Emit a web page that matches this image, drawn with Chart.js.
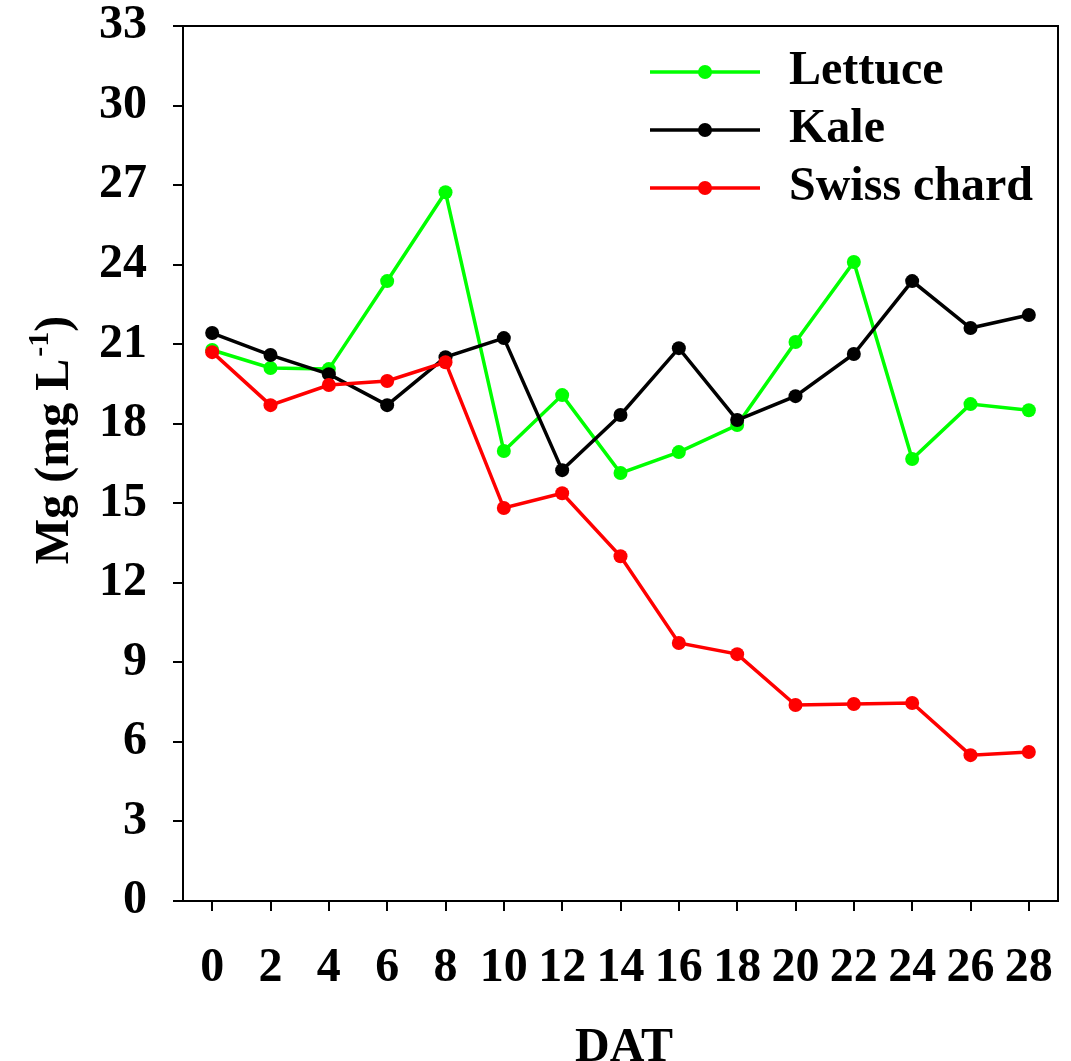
<!DOCTYPE html>
<html>
<head>
<meta charset="utf-8">
<script src="https://cdn.jsdelivr.net/npm/chart.js@4/dist/chart.umd.min.js"></script>
<style>
  html, body { margin: 0; padding: 0; background: #fff; }
  #wrap { width: 1071px; height: 1061px; position: relative; }
</style>
</head>
<body>
<div id="wrap"><canvas id="c" width="1071" height="1061"></canvas></div>
<script>
const days = [0, 2, 4, 6, 8, 10, 12, 14, 16, 18, 20, 22, 24, 26, 28];
const seriesNames = ["Lettuce", "Kale", "Swiss chard"];
const lettuce = [20.78, 20.10, 20.06, 23.38, 26.73, 16.97, 19.08, 16.14, 16.93, 17.95, 21.08, 24.10, 16.67, 18.74, 18.51];
const kale = [21.42, 20.59, 19.87, 18.70, 20.51, 21.23, 16.25, 18.33, 20.85, 18.14, 19.04, 20.63, 23.38, 21.61, 22.10];
const swissChard = [20.70, 18.70, 19.46, 19.61, 20.32, 14.82, 15.38, 13.00, 9.73, 9.31, 7.39, 7.43, 7.47, 5.50, 5.62];
const yTicks = [0, 3, 6, 9, 12, 15, 18, 21, 24, 27, 30, 33];
const xTitle = "DAT";
const yTitleMain = "Mg (mg L";
const yTitleSup = "-1";
const yTitleEnd = ")";

const colors = ["#00ff00", "#000000", "#ff0000"];
const FONT = "'Liberation Serif', 'Times New Roman', serif";

function pts(arr) { return days.map((d, i) => ({ x: d, y: arr[i] })); }

const allSeries = [lettuce, kale, swissChard];
const datasets = allSeries.map((arr, i) => ({
  label: seriesNames[i],
  data: pts(arr),
  borderColor: colors[i],
  backgroundColor: colors[i],
  pointBackgroundColor: colors[i],
  pointBorderColor: colors[i],
  borderWidth: 3.5,
  pointRadius: 7,
  pointBorderWidth: 0,
  tension: 0,
  order: 3 - i
}));

const decor = {
  id: 'decor',
  afterDraw(chart) {
    const ctx = chart.ctx;
    const a = chart.chartArea;
    ctx.save();
    // frame
    ctx.strokeStyle = '#000';
    ctx.lineWidth = 2;
    ctx.strokeRect(a.left, a.top, a.right - a.left, a.bottom - a.top);
    // legend
    ctx.font = "bold 48px " + FONT;
    ctx.textBaseline = 'middle';
    ctx.textAlign = 'left';
    chart.data.datasets.forEach((ds, i) => {
      const y = 72 + i * 58;
      ctx.strokeStyle = ds.borderColor;
      ctx.lineWidth = 3.5;
      ctx.beginPath();
      ctx.moveTo(650, y);
      ctx.lineTo(760, y);
      ctx.stroke();
      ctx.fillStyle = ds.borderColor;
      ctx.beginPath();
      ctx.arc(705, y, 7, 0, Math.PI * 2);
      ctx.fill();
      ctx.fillStyle = '#000';
      ctx.fillText(ds.label, 789, y);
    });
    // x title
    ctx.fillStyle = '#000';
    ctx.textAlign = 'center';
    ctx.textBaseline = 'alphabetic';
    ctx.font = "bold 48px " + FONT;
    ctx.fillText(xTitle, 624, 1061);
    // y title with superscript
    ctx.translate(68, 440);
    ctx.rotate(-Math.PI / 2);
    const fMain = "bold 48px " + FONT;
    const fSup = "bold 30px " + FONT;
    ctx.font = fMain;
    const w1 = ctx.measureText(yTitleMain).width;
    const w3 = ctx.measureText(yTitleEnd).width;
    ctx.font = fSup;
    const w2 = ctx.measureText(yTitleSup).width;
    const total = w1 + w2 + w3 + 2;
    let x = -total / 2;
    ctx.textAlign = 'left';
    ctx.font = fMain;
    ctx.fillText(yTitleMain, x, 0);
    x += w1 + 2;
    ctx.font = fSup;
    ctx.fillText(yTitleSup, x, -20);
    x += w2;
    ctx.font = fMain;
    ctx.fillText(yTitleEnd, x, 0);
    ctx.restore();
  }
};

new Chart(document.getElementById('c'), {
  type: 'line',
  data: { datasets },
  options: {
    responsive: false,
    animation: false,
    devicePixelRatio: 1,
    layout: { padding: { top: 26, right: 13, left: 0, bottom: 0 } },
    plugins: { legend: { display: false }, tooltip: { enabled: false }, title: { display: false } },
    scales: {
      x: {
        type: 'linear',
        min: -1,
        max: 29,
        afterBuildTicks(scale) { scale.ticks = days.map(v => ({ value: v })); },
        afterFit(scale) {
          scale.height = 160;
          scale.paddingLeft = 0; scale.paddingRight = 0;
          scale.paddingTop = 0; scale.paddingBottom = 0;
        },
        grid: { drawOnChartArea: false, drawTicks: true, tickLength: 10, color: '#000', lineWidth: 2 },
        border: { display: true, color: '#000', width: 2 },
        ticks: {
          color: '#000',
          font: { family: FONT, size: 48, weight: 'bold' },
          padding: 29,
          maxRotation: 0,
          autoSkip: false,
          callback: (v) => String(v)
        }
      },
      y: {
        type: 'linear',
        min: 0,
        max: 33,
        afterBuildTicks(scale) { scale.ticks = yTicks.map(v => ({ value: v })); },
        afterFit(scale) {
          scale.width = 183;
          scale.paddingLeft = 0; scale.paddingRight = 0;
          scale.paddingTop = 0; scale.paddingBottom = 0;
        },
        grid: { drawOnChartArea: false, drawTicks: true, tickLength: 10, color: '#000', lineWidth: 2 },
        border: { display: true, color: '#000', width: 2 },
        ticks: {
          color: '#000',
          font: { family: FONT, size: 48, weight: 'bold' },
          padding: 26,
          autoSkip: false,
          callback: (v) => String(v)
        }
      }
    }
  },
  plugins: [decor]
});
</script>
</body>
</html>
